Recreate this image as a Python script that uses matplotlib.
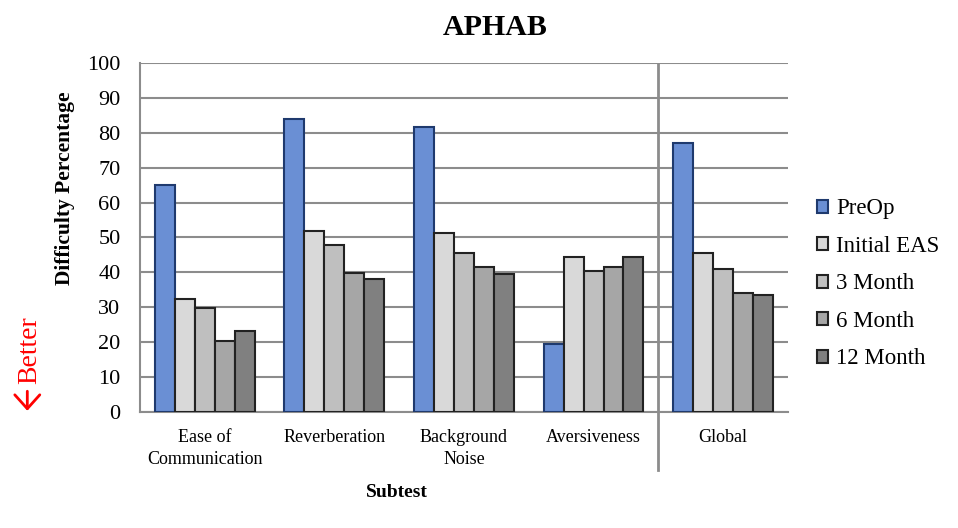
import numpy as np
import matplotlib.pyplot as plt
from matplotlib.patches import Patch

plt.rcParams['font.family'] = ['Liberation Serif', 'DejaVu Serif']

# data
subtests = ['Ease of\nCommunication', 'Reverberation', 'Background\nNoise',
            'Aversiveness', 'Global']
series = ['PreOp', 'Initial EAS', '3 Month', '6 Month', '12 Month']
preop = [65.0, 83.9, 81.7, 19.4, 77.1]
initial = [32.5, 51.9, 51.2, 44.5, 45.6]
month3 = [29.7, 47.9, 45.6, 40.4, 41.0]
month6 = [20.4, 39.8, 41.6, 41.7, 34.2]
month12 = [23.2, 38.1, 39.5, 44.5, 33.6]

values = [preop, initial, month3, month6, month12]
fills = ['#6a8fd4', '#d9d9d9', '#bfbfbf', '#a6a6a6', '#808080']
edges = ['#1f3a6e', '#222222', '#222222', '#222222', '#222222']

fig = plt.figure(figsize=(9.58, 5.28), dpi=100)
ax = fig.add_axes([0.1461, 0.2191, 0.6764, 0.6622])

x = np.arange(len(subtests))
w = 0.154
for i, vals in enumerate(values):
    ax.bar(x + (i - 2) * w, vals, w, color=fills[i], edgecolor=edges[i],
           linewidth=1.5, zorder=3, label=series[i])

ax.set_xlim(-0.5, 4.5)
ax.set_ylim(0, 100)
ax.set_yticks(np.arange(0, 101, 10))
ax.yaxis.grid(True, color='#8c8c8c', linewidth=1.5, zorder=0)
ax.set_xticks(x)
ax.set_xticklabels(subtests, fontsize=13, linespacing=1.35)
ax.tick_params(axis='y', labelsize=16, length=0, pad=14)
ax.tick_params(axis='x', length=0, pad=12)
for s in ['top', 'right']:
    ax.spines[s].set_visible(False)
ax.spines['left'].set_color('#8c8c8c')
ax.spines['left'].set_linewidth(1.5)
ax.spines['bottom'].set_color('#8c8c8c')
ax.spines['bottom'].set_linewidth(1.5)

# separator between subtests and global
ax.plot([3.5, 3.5], [-0.165, 0.995], color='#8c8c8c', linewidth=2,
        transform=ax.get_xaxis_transform(), clip_on=False, zorder=4)

fig.text(0.517, 0.948, 'APHAB', fontsize=21.5, fontweight='bold',
         ha='center', va='center')
ax.set_xlabel('Subtest', fontsize=14, fontweight='bold', labelpad=10)
ax.xaxis.set_label_coords(0.397, -0.205)
ax.set_ylabel('Difficulty Percentage', fontsize=15.5, fontweight='bold')
ax.yaxis.set_label_coords(-0.1, 0.64)

# "better" note with downward arrow
fig.text(0.031, 0.337, 'Better', color='red', fontsize=20, rotation=90,
         ha='center', va='center')
ax.annotate('', xy=(0.0285, 0.222), xytext=(0.0285, 0.259),
            xycoords='figure fraction', textcoords='figure fraction',
            arrowprops=dict(arrowstyle='->, head_length=0.5, head_width=0.45',
                            color='red', lw=2, mutation_scale=20,
                            shrinkA=0, shrinkB=0))

handles = [Patch(facecolor=fills[i], edgecolor=edges[i], linewidth=1.5)
           for i in range(len(series))]
ax.legend(handles, series, loc='center left', bbox_to_anchor=(1.013, 0.367),
          frameon=False, fontsize=16.5, handlelength=0.5, handleheight=0.5,
          handletextpad=0.35, labelspacing=0.72)

plt.savefig('out.png', dpi=100)
